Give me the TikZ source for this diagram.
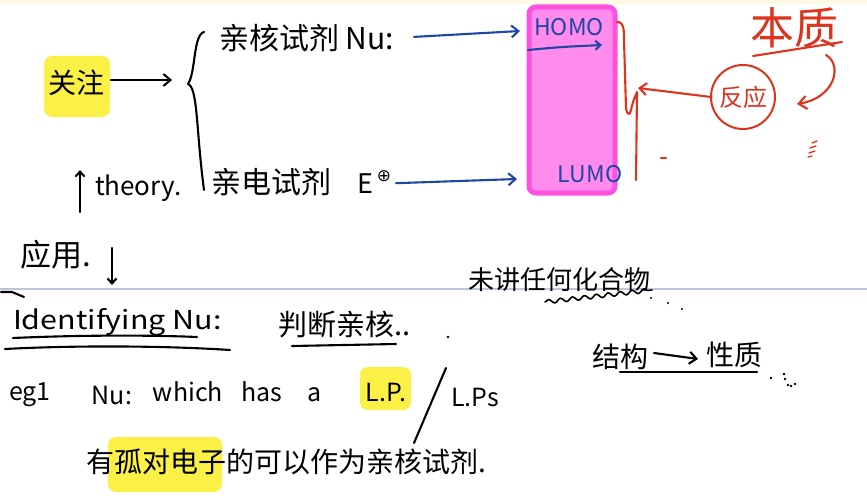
\documentclass[tikz,border=0pt]{standalone}
\usepackage{fontspec}
\setmainfont{Noto Sans CJK SC}
\newfontfamily\symfont{DejaVu Sans}
\usetikzlibrary{arrows.meta,decorations.pathmorphing}
\definecolor{hlyellow}{RGB}{250,240,70}
\definecolor{boxfill}{RGB}{255,140,236}
\definecolor{boxedge}{RGB}{255,80,222}
\definecolor{penblue}{RGB}{30,70,165}
\definecolor{penred}{RGB}{222,52,30}
\definecolor{rulegray}{RGB}{188,198,216}
\definecolor{topstrip}{RGB}{253,249,228}
\begin{document}
\begin{tikzpicture}[x=1pt,y=-1pt,
  every node/.style={inner sep=0pt,outer sep=0pt},
  pen/.style={line width=2.1pt,line cap=round,line join=round},
  hand/.style={-{Straight Barb[length=7pt,width=12pt]}},
  bluepen/.style={pen,penblue},
  redpen/.style={pen,penred},
  hl/.style={fill=hlyellow,rounded corners=8pt},
  txt/.style={font=\fontsize{#1}{#1}\selectfont},
  txt/.default=26]
\useasboundingbox (0,0) rectangle (867,503);
\fill[white] (0,0) rectangle (867,503);
\fill[topstrip] (0,0) rectangle (867,4);
% ruled line
\draw[rulegray,line width=1.4pt] (0,289) -- (867,289);

% ---------- top left ----------
\fill[hl] (44,56) rectangle (110,117);
\node[txt=28,anchor=center] (gz) at (76,83) {关注};
\coordinate (arrend) at (172,80);
\draw[pen,hand] (gz.east) ++(7,-3) -- (arrend);
% brace
\draw[pen] (204,32) .. controls (193,35) and (196,72) .. (188,84)
  .. controls (198,88) and (196,130) .. (204,190);

\node[txt=30,anchor=west] (nu) at (219,38) {亲核试剂 Nu:};
\node[txt=30,anchor=west] (el) at (211,182) {亲电试剂};
\node[txt=27,anchor=west] (ee) at (357,184) {E};
\node[anchor=center,font=\symfont\fontsize{17}{17}\selectfont] (plus) at (384,176) {⊕};

\coordinate (thb) at (80,212);
\coordinate (tht) at (80,170);
\draw[pen,-{Straight Barb[length=5pt,width=9pt]}] (thb) -- (tht);
\node[txt=26,anchor=west] (th) at (95,188) {theory.};

\node[txt=31,anchor=center] (yy) at (56,255) {应用.};
\coordinate (dat) at (112,248);
\coordinate (dab) at (112,285);
\draw[pen,-{Straight Barb[length=5pt,width=9pt]}] (dat) -- (dab);
\draw[pen] (1,292) -- (12,292) -- (24,297);

% ---------- orbital box ----------
\node[draw=boxedge,fill=boxfill,line width=5pt,rounded corners=7pt,
      minimum width=86pt,minimum height=186pt] (box) at (572,100) {};
\node[txt=23,anchor=center,text=penblue] (homo) at (569,27) {HOMO};
\node[txt=23,anchor=center,text=penblue] (lumo) at (590,174) {LUMO};
\coordinate (hula) at (528,50);
\coordinate (hulb) at (602,45);
\draw[bluepen,-{Straight Barb[length=5pt,width=9pt]}] (hula) .. controls (560,47) .. (hulb);
\coordinate (homoin) at (520,31);
\coordinate (lumoin) at (517,179);
\draw[bluepen,hand,shorten <=20pt] (nu.east) -- (homoin);
\draw[bluepen,hand,shorten <=23pt] (ee.east) -- (lumoin);

% ---------- red annotations ----------
\draw[redpen] (617,22) .. controls (624,22) and (624,30) .. (624,40)
  -- (626,108) .. controls (627,115) and (630,116) .. (631,110)
  .. controls (633,100) and (636,95) .. (637,92) -- (636,180);
\node[draw=penred,line width=2pt,circle,minimum size=64pt,
      txt=24,text=penred] (fy) at (743,97) {反应};
\coordinate (redtip) at (638,88);
\draw[redpen,hand] (fy.west) -- (redtip);
\node[txt=44,anchor=center,text=penred] (bz) at (794,28) {本质};
\draw[redpen] (753,56) -- (842,42);
\coordinate (cas) at (826,55);
\coordinate (cae) at (797,104);
\draw[redpen,-{Straight Barb[length=8pt,width=13pt]}] (cas) .. controls (843,65) and (835,98) .. (cae);
\draw[redpen,line width=1.3pt] (812,143) -- (817,141) (810,148) -- (816,146) (809,153) -- (815,151) (808,157) -- (812,156);
\draw[redpen] (661,158) -- (666,158);

% ---------- lower part ----------
\node[txt=26,anchor=west] (idn) at (13,322) {\scalebox{1.17}[1]{Identifying Nu:}};
\draw[pen] (13,338) .. controls (80,335) and (150,335) .. (197,337);
\draw[pen] (5,349) .. controls (80,345) and (170,346) .. (230,350);
\node[txt=29,anchor=west] (pd) at (278,325) {判断亲核..};
\draw[pen] (292,346) -- (396,344);
\fill (448,337) circle (1.3pt);

\node[txt=25,anchor=center] (eg) at (30,395) {eg1};
\node[txt=25,anchor=center] (nu2) at (112,395) {Nu:};
\node[txt=25,anchor=center] (which) at (188,392) {which};
\node[txt=25,anchor=center] (has) at (262,392) {has};
\node[txt=25,anchor=center] (aa) at (315,395) {a};
\fill[hl] (360,367) rectangle (411,410);
\node[txt=25,anchor=center] (lp) at (386,392) {L.P.};
\coordinate (sla) at (446,368);
\coordinate (slb) at (414,443);
\draw[pen] (sla) -- (slb);
\node[txt=25,anchor=center] (lps) at (475,397) {L.Ps};

\fill[hl] (108,437) rectangle (222,492);
\node[txt=28,anchor=west] (cn) at (86,462) {有孤对电子的可以作为亲核试剂.};

\node[txt=26,anchor=west] (wj) at (468,280) {未讲任何化合物};
\draw[pen,line width=1.6pt,decorate,decoration={snake,amplitude=2pt,segment length=12pt}]
  (545,302) -- (652,290);
\foreach \p in {(651,298),(668,303),(682,309)} \fill \p circle (1.2pt);

\node[txt=28,anchor=center] (jg) at (620,357) {结构};
\node[txt=28,anchor=center] (xz) at (734,355) {性质};
\draw[pen,hand] (jg.east) ++(6,-4) -- ([xshift=-8pt,yshift=-4pt]xz.west);
\draw[pen] (620,372) -- (757,372);
\foreach \p in {(771,378),(784,374),(785,379),(788,385),(791,386),(795,384)} \fill \p circle (1.3pt);
\end{tikzpicture}
\end{document}
